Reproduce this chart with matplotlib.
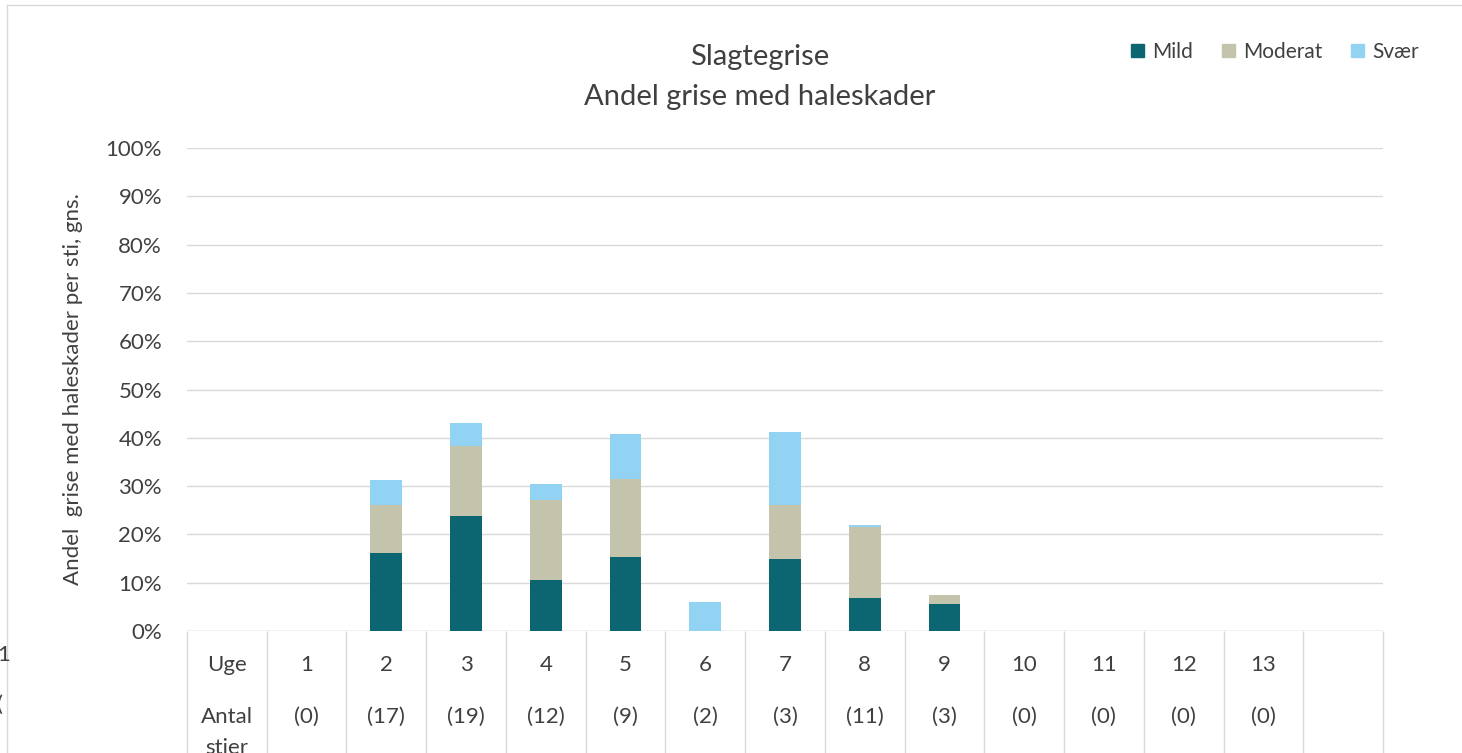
import matplotlib.pyplot as plt
from matplotlib.lines import Line2D
from matplotlib.patches import Patch

weeks = ['1', '2', '3', '4', '5', '6', '7', '8', '9', '10', '11', '12', '13']
antal_stier = ['(0)', '(17)', '(19)', '(12)', '(9)', '(2)', '(3)', '(11)', '(3)',
               '(0)', '(0)', '(0)', '(0)']
mild = [0, 16.1, 23.8, 10.6, 15.4, 0, 15.0, 6.8, 5.6, 0, 0, 0, 0]
moderat = [0, 9.9, 14.4, 16.5, 16.1, 0, 11.1, 14.8, 1.9, 0, 0, 0, 0]
svaer = [0, 5.3, 4.9, 3.3, 9.2, 6.1, 15.2, 0.3, 0, 0, 0, 0, 0]

c_mild = '#0B6672'
c_mod = '#C4C3AB'
c_sv = '#92D2F2'
grid_c = '#D9D9D9'
txt_c = '#404040'
fs = 16

plt.rcParams['font.family'] = ['Lato', 'DejaVu Sans']

fig = plt.figure(figsize=(14.62, 7.53), dpi=100)
W, H = 1462, 753
ax = fig.add_axes([187 / W, 1 - 631 / H, (1383 - 187) / W, (631 - 148) / H])

x = list(range(1, len(weeks) + 1))
bw = 0.4
ax.bar(x, mild, bw, color=c_mild, label='Mild', zorder=3)
ax.bar(x, moderat, bw, bottom=mild, color=c_mod, label='Moderat', zorder=3)
bot2 = [a + b for a, b in zip(mild, moderat)]
ax.bar(x, svaer, bw, bottom=bot2, color=c_sv, label='Svær', zorder=3)

ax.set_xlim(-0.5, 14.5)
ax.set_ylim(0, 100)
ax.set_yticks(range(0, 101, 10))
ax.set_yticklabels([f'{v}%' for v in range(0, 101, 10)], fontsize=fs, color=txt_c)
ax.tick_params(axis='y', length=0, pad=18)
ax.set_xticks([])
for s in ax.spines.values():
    s.set_visible(False)
ax.yaxis.grid(True, color=grid_c, lw=1, zorder=0)
ax.axhline(0, color=grid_c, lw=1, zorder=1)

ax.set_ylabel('Andel  grise med haleskader per sti, gns.', fontsize=fs,
              color=txt_c, labelpad=16)

# category table below the plot
ax.vlines([i - 0.5 for i in range(16)], -40, 0, color=grid_c, lw=1, clip_on=False)
ax.text(0, -7.0, 'Uge', ha='center', va='center', fontsize=fs, color=txt_c)
ax.text(0, -17.8, 'Antal', ha='center', va='center', fontsize=fs, color=txt_c)
ax.text(0, -24.3, 'stier', ha='center', va='center', fontsize=fs, color=txt_c)
for xi, wk, n in zip(x, weeks, antal_stier):
    ax.text(xi, -7.0, wk, ha='center', va='center', fontsize=fs, color=txt_c)
    ax.text(xi, -17.8, n, ha='center', va='center', fontsize=fs, color=txt_c)

fig.text(760 / W, 1 - 57 / H, 'Slagtegrise', ha='center', va='center',
         fontsize=21, color=txt_c)
fig.text(760 / W, 1 - 97 / H, 'Andel grise med haleskader', ha='center',
         va='center', fontsize=21, color=txt_c)

handles = [Patch(color=c_mild), Patch(color=c_mod), Patch(color=c_sv)]
fig.legend(handles, ['Mild', 'Moderat', 'Svær'], loc='center',
           bbox_to_anchor=(1275 / W, 1 - 52 / H), ncol=3, frameon=False,
           fontsize=15, handlelength=0.6, handleheight=0.6, handletextpad=0.4,
           columnspacing=1.4, labelcolor=txt_c)

# chart border and neighbouring chart remnants
fig.add_artist(Line2D([7 / W, 7 / W], [0, 1 - 5 / H], color=grid_c, lw=1))
fig.add_artist(Line2D([7 / W, 1], [1 - 5 / H, 1 - 5 / H], color=grid_c, lw=1))
fig.text(-3 / W, 1 - 655 / H, '1', ha='left', va='center', fontsize=fs, color=txt_c)
fig.text(-3 / W, 1 - 705 / H, '(', ha='left', va='center', fontsize=fs, color=txt_c)

fig.savefig('out.png', dpi=100)
